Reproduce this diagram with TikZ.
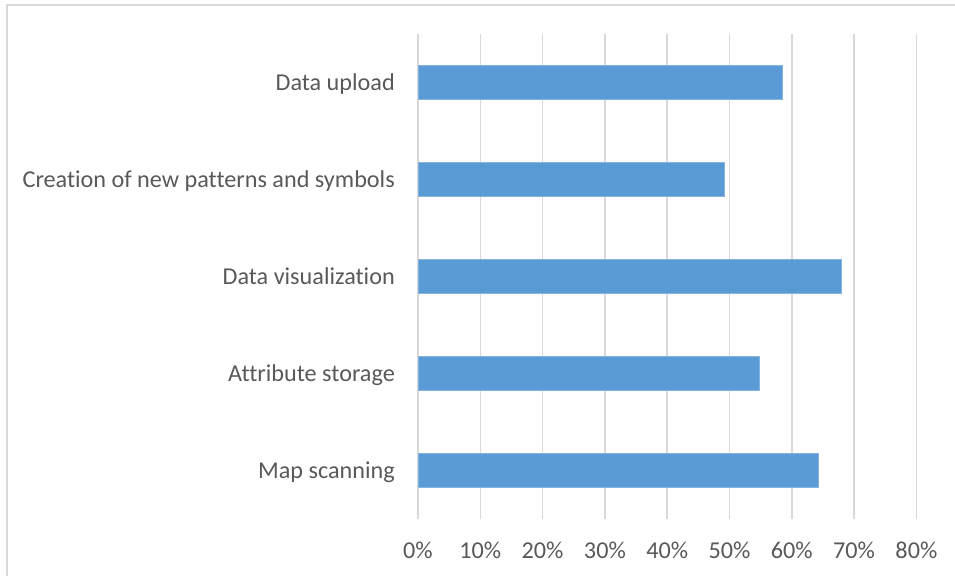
\documentclass[tikz,border=0pt]{standalone}
\usepackage{fontspec}
\setmainfont{Carlito}[Ligatures=NoCommon]
\usetikzlibrary{positioning}
\definecolor{barblue}{HTML}{5B9BD5}
\definecolor{gridgray}{HTML}{D9D9D9}
\definecolor{textgray}{HTML}{595959}

\begin{document}
\begin{tikzpicture}[x=1pt,y=-1pt,
    gridline/.style={draw=gridgray,line width=1.6pt},
    bar/.style={fill=barblue,draw=barblue!75!white,line width=0.8pt},
    catlabel/.style={anchor=base east,text=textgray,inner sep=0pt,
      font=\fontsize{24.2}{29}\selectfont},
    ticklabel/.style={anchor=base,text=textgray,inner sep=0pt,
      font=\fontsize{24.2}{29}\selectfont}]
  \useasboundingbox (0,0) rectangle (955,576);
  % chart frame
  \coordinate (frameLL) at (7,576);
  \coordinate (frameUL) at (7,5);
  \coordinate (frameUR) at (955,5);
  \draw[gridgray,line width=1.6pt] (frameLL) -- (frameUL) -- (frameUR);
  % vertical grid and axis labels
  \foreach \p in {0,...,8}{
    \pgfmathtruncatemacro{\pct}{10*\p}
    \coordinate (gtop\p) at (418+62.3*\p,34);
    \coordinate (gbot\p) at (418+62.3*\p,519);
    \draw[gridline] (gtop\p) -- (gbot\p);
    \node[ticklabel] (tick\p) at (418+62.3*\p,558) {\pct\%};
  }
  % bars and category labels
  \foreach \id/\val/\yc/\txt in {
      upload/58.5/82.5/Data upload,
      creation/49.1/179.3/Creation of new patterns and symbols,
      visual/68.0/276.3/Data visualization,
      attrib/54.8/373.2/Attribute storage,
      scan/64.2/470.2/Map scanning}{
    \draw[bar] (418,\yc-17) rectangle (418+6.23*\val,\yc+17);
    \node[catlabel] (\id) at (395,\yc+8) {\txt};
  }
\end{tikzpicture}
\end{document}
